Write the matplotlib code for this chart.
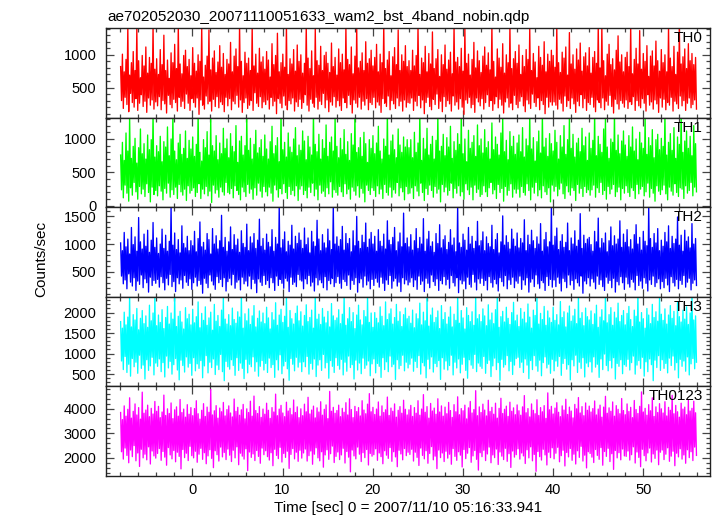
import numpy as np
import matplotlib
matplotlib.use("Agg")
import matplotlib.pyplot as plt
from matplotlib.ticker import MultipleLocator

plt.rcParams['font.family'] = ['Liberation Sans', 'DejaVu Sans']

title = "ae702052030_20071110051633_wam2_bst_4band_nobin.qdp"
xlabel = "Time [sec] 0 = 2007/11/10 05:16:33.941"
ylabel = "Counts/sec"
band_names = ["TH0", "TH1", "TH2", "TH3", "TH0123"]
band_colors = ["#ff0000", "#00ff00", "#0000ff", "#00ffff", "#ff00ff"]
t_start, t_stop = -7.95, 55.9
ylims = [(40, 1410), (-20, 1320), (45, 1667), (200, 2385), (1260, 4915)]
ymajor = [500, 500, 500, 500, 1000]
yminor = [100, 100, 100, 100, 200]

# local maxima / minima of each light curve (alternating)
th0_hi = [820, 1010, 740, 930, 1450, 690, 880, 1050, 760, 1420, 910, 650, 990, 830, 1120, 720, 960, 870, 1460, 780,
          940, 700, 1080, 850, 1300, 760, 920, 640, 1030, 880, 1160, 790, 1450, 860, 710, 990, 1070, 820, 930, 680,
          1110, 870, 750, 1000, 900, 1440, 660, 840, 980, 1380, 770, 950, 1060, 730, 890, 1140, 810, 1020, 700, 930,
          860, 1190, 740, 980, 1090, 820, 1460, 900, 680, 1040, 870, 950, 760, 1450, 830, 1010, 720, 1100, 890, 970,
          780, 1050, 920, 660, 1170, 850, 990, 1330, 740, 880, 1010, 810, 1470, 700, 940, 860, 1080, 750, 1150, 900,
          1000, 720, 870, 1450, 950, 790, 1060, 680, 1400, 910, 840, 1130, 760, 990, 1040, 870, 730, 1180, 820, 960,
          690, 1090, 880, 1010, 770, 1440, 930, 850, 1120, 710, 980, 1430, 800, 900, 1030, 760, 1200, 870, 940, 1070,
          830, 960, 1160, 740, 1010, 880, 1460, 790, 920, 1050, 680, 970, 1110, 850, 1380, 760, 1000, 900, 1140, 820,
          910, 760, 1070, 830, 990, 1450, 700, 950, 880, 1130, 740, 1020, 860, 1350, 790, 940, 1080, 670, 1000, 850,
          1150, 780, 920, 1040, 710, 1460, 890, 960, 820, 1100, 750, 1440, 870, 1010, 690, 930, 1190, 800, 1060, 910,
          730, 980, 1120, 840, 1030, 770, 1470, 900, 660, 1090, 950, 810, 1170, 720, 1000, 880, 1450, 790, 940, 1050,
          870, 1150, 700, 990, 820, 1080, 930, 1410, 760, 1020, 890, 650, 1130, 960, 840, 1200, 740, 1010, 900, 1070,
          990, 810, 1440, 880, 730, 1040, 950, 1120, 690, 1340, 860, 1000, 780, 1090, 920, 1180, 750, 970, 1030, 830,
          1110, 720, 960, 1050, 870, 1450, 800, 1450, 910, 680, 1010, 1160, 850, 940, 770, 1070, 1290, 890, 1000, 740,
          960, 1040, 820, 1460, 710, 930, 1100, 860, 1370, 780, 1020, 900, 1140, 670, 980, 1060, 830, 1210, 910, 750,
          1080, 880, 1000, 740, 1450, 950, 820, 1130, 700, 1040, 1420, 860, 970, 1090, 790, 1170, 910, 1020, 850, 960]
th0_lo = [300, 180, 350, 240, 130, 410, 270, 200, 330, 150, 260, 390, 210, 290, 120, 340, 230, 310, 170, 280,
          220, 360, 160, 300, 250, 110, 380, 240, 190, 320, 270, 140, 350, 210, 290, 180, 400, 260, 150, 330,
          270, 200, 340, 90, 310, 230, 170, 370, 250, 290, 140, 320, 210, 360, 190, 280, 240, 130, 350, 220,
          330, 160, 290, 250, 380, 200, 310, 120, 270, 340, 180, 230, 300, 150, 420, 260, 210, 360, 190, 280,
          240, 310, 170, 350, 220, 290, 100, 330, 260, 190, 370, 230, 160, 300, 250, 340, 140, 280, 210, 320,
          180, 270, 390, 230, 140, 320, 260, 200, 350, 170, 290, 240, 410, 190, 310, 130, 280, 230, 360, 200,
          300, 220, 150, 340, 270, 190, 380, 240, 110, 310, 260, 200, 350, 170, 290, 230, 330, 160, 270, 240,
          350, 190, 280, 230, 120, 330, 260, 210, 370, 160, 300, 250, 180, 340, 220, 290, 140, 310, 200, 270,
          260, 340, 150, 290, 220, 380, 190, 310, 100, 270, 350, 210, 160, 320, 240, 400, 180, 290, 130, 360,
          210, 300, 250, 140, 370, 230, 280, 170, 330, 200, 90, 310, 260, 350, 190, 240, 120, 340, 280, 220,
          330, 170, 270, 390, 210, 300, 150, 250, 360, 190, 320, 230, 110, 280, 340, 200, 260, 160, 380, 240,
          190, 290, 360, 220, 130, 310, 250, 180, 400, 270, 210, 340, 160, 300, 240, 100, 350, 200, 280, 230,
          280, 230, 170, 320, 260, 140, 370, 210, 300, 180, 340, 250, 120, 290, 220, 390, 190, 330, 150, 270,
          240, 350, 200, 130, 310, 270, 190, 340, 160, 290, 230, 380, 210, 110, 320, 250, 170, 300, 260, 200,
          310, 180, 280, 240, 360, 150, 300, 220, 190, 330, 260, 140, 390, 230, 280, 170, 310, 250, 120, 340,
          200, 320, 160, 270, 230, 350, 140, 290, 250, 180, 370, 220, 300, 150, 260, 340, 190, 240, 310, 170]

th1_hi = [760, 950, 680, 1090, 820, 1340, 710, 890, 1010, 640, 870, 1150, 780, 930, 700, 1060, 840, 990, 1400, 730,
          900, 810, 1040, 660, 960, 880, 1180, 750, 1000, 1380, 820, 690, 940, 1070, 770, 860, 1120, 710, 980, 850,
          1030, 740, 920, 1400, 800, 670, 990, 870, 1110, 760, 1320, 900, 820, 1050, 690, 940, 780, 1160, 860, 1000,
          720, 1080, 890, 810, 1200, 650, 970, 1040, 760, 900, 1350, 830, 1010, 700, 920, 1130, 790, 870, 990, 740,
          1060, 850, 700, 960, 1190, 780, 900, 1020, 660, 1400, 840, 950, 730, 1090, 880, 800, 1000, 1170, 750, 910,
          830, 1120, 970, 690, 1040, 880, 760, 1400, 920, 810, 1070, 700, 990, 860, 1210, 740, 950, 1030, 820, 1360,
          890, 720, 1010, 840, 1140, 770, 960, 680, 1080, 910, 1400, 800, 870, 1020, 740, 1100, 930, 650, 990, 860,
          1050, 780, 940, 1190, 820, 700, 1000, 890, 1400, 760, 970, 1060, 840, 720, 1150, 910, 800, 1030, 880, 990,
          870, 990, 720, 1100, 800, 940, 1400, 680, 1010, 850, 1160, 760, 920, 1040, 700, 980, 1370, 820, 890, 1070,
          750, 1020, 880, 1190, 710, 960, 830, 1080, 920, 1400, 780, 1000, 660, 1130, 860, 950, 1050, 740, 1210, 900,
          1000, 790, 1140, 870, 960, 700, 1240, 840, 1030, 920, 760, 1090, 1330, 810, 980, 690, 1110, 890, 1040, 770,
          940, 1060, 810, 1170, 730, 1000, 900, 1400, 850, 1020, 670, 960, 1120, 790, 1390, 880, 1010, 740, 1080, 930,
          820, 1130, 950, 700, 1050, 880, 1200, 770, 990, 1340, 860, 1070, 730, 940, 1010, 810, 1160, 900, 1030, 680,
          1090, 860, 980, 1400, 750, 1040, 920, 800, 1150, 1310, 880, 710, 1000, 950, 1400, 830, 1060, 780, 970, 1120,
          910, 740, 1050, 880, 1180, 820, 1000, 690, 1100, 940, 860, 1360, 770, 1020, 900, 1140, 720, 990, 1070, 840,
          1010, 890, 1400, 760, 950, 1080, 830, 1170, 710, 1030, 920, 1400, 800, 970, 1120, 860, 1040, 750, 1200, 930]
th1_lo = [240, 120, 310, 190, 70, 270, 160, 350, 210, 100, 290, 180, 250, 140, 330, 200, 60, 280, 170, 230,
          150, 300, 220, 90, 260, 190, 340, 130, 240, 170, 280, 110, 320, 210, 160, 250, 80, 300, 190, 230,
          270, 140, 200, 330, 110, 250, 180, 290, 150, 220, 50, 310, 190, 240, 130, 280, 210, 160, 350, 200,
          180, 260, 120, 300, 230, 170, 90, 280, 210, 140, 320, 190, 250, 100, 270, 160, 340, 220, 130, 290,
          210, 150, 280, 190, 70, 310, 240, 130, 260, 180, 330, 200, 110, 290, 170, 230, 150, 300, 80, 250,
          300, 170, 230, 120, 280, 200, 340, 150, 250, 90, 310, 190, 220, 140, 270, 180, 360, 130, 240, 200,
          160, 290, 210, 140, 330, 180, 250, 100, 280, 220, 160, 300, 130, 260, 190, 60, 310, 230, 170, 270,
          230, 140, 300, 180, 250, 110, 320, 200, 160, 280, 130, 240, 190, 350, 150, 270, 210, 90, 290, 180,
          190, 270, 110, 300, 220, 150, 340, 200, 80, 260, 170, 310, 230, 130, 290, 190, 250, 60, 320, 210,
          280, 160, 230, 340, 120, 260, 190, 300, 150, 210, 100, 330, 240, 170, 280, 90, 310, 200, 250, 140,
          170, 300, 210, 140, 270, 350, 180, 240, 110, 320, 200, 260, 70, 290, 160, 230, 330, 130, 250, 190,
          250, 130, 290, 200, 160, 330, 230, 90, 280, 190, 350, 150, 240, 120, 300, 210, 170, 270, 60, 310,
          220, 290, 150, 250, 340, 180, 110, 300, 210, 160, 270, 230, 80, 320, 190, 260, 140, 290, 200, 240,
          160, 240, 310, 130, 270, 200, 350, 170, 230, 100, 290, 180, 250, 320, 140, 210, 280, 90, 260, 190,
          300, 200, 140, 270, 230, 110, 320, 180, 250, 290, 150, 210, 340, 130, 260, 190, 70, 300, 220, 170,
          240, 310, 180, 90, 280, 220, 160, 330, 200, 140, 270, 250, 110, 300, 190, 230, 350, 150, 280, 210]

th2_hi = [1020, 880, 1210, 950, 1090, 820, 1300, 990, 1130, 870, 1480, 1040, 910, 1180, 960, 1250, 850, 1070, 1390, 940,
          1110, 830, 1000, 1270, 920, 1160, 870, 1050, 1700, 980, 1200, 900, 1080, 840, 1330, 1010, 930, 1140, 880, 1060,
          970, 1230, 860, 1100, 1400, 950, 1030, 890, 1190, 1080, 820, 1280, 1000, 1150, 910, 1060, 1520, 940, 1120, 870,
          1040, 1310, 900, 1170, 980, 1090, 850, 1240, 1010, 940, 1360, 880, 1130, 1020, 1190, 920, 1070, 1450, 960, 1100,
          890, 1180, 1030, 950, 1260, 870, 1120, 1000, 1700, 930, 1080, 1220, 860, 1050, 980, 1340, 910, 1140, 1010, 1200,
          1070, 920, 1290, 990, 1110, 840, 1230, 1040, 960, 1430, 1090, 880, 1170, 1020, 930, 1270, 1060, 900, 1700, 1000,
          1130, 960, 1080, 1320, 890, 1190, 1010, 1100, 860, 1240, 970, 1500, 1050, 920, 1160, 1030, 1380, 940, 1090, 1210,
          1000, 1140, 870, 1260, 1050, 960, 1180, 910, 1420, 1070, 990, 1120, 1300, 880, 1040, 1200, 950, 1560, 1010, 1110,
          950, 1170, 890, 1060, 1280, 920, 1120, 1000, 1460, 870, 1090, 1230, 960, 1040, 850, 1190, 1010, 1350, 930, 1080,
          1150, 900, 1030, 1260, 980, 1110, 860, 1700, 1020, 940, 1180, 1070, 890, 1300, 1000, 1140, 920, 1050, 1410, 970,
          1060, 1220, 880, 1130, 1010, 950, 1340, 900, 1080, 1190, 840, 1040, 1510, 980, 1150, 1030, 910, 1270, 1090, 960,
          1200, 930, 1100, 1020, 1440, 880, 1160, 990, 1250, 1060, 920, 1130, 1000, 1370, 870, 1080, 1210, 950, 1040, 1700,
          980, 1140, 1290, 900, 1050, 1170, 940, 1030, 1380, 880, 1110, 1000, 1240, 960, 1070, 1550, 920, 1160, 1010, 1090,
          1120, 990, 870, 1230, 1040, 1470, 930, 1100, 1020, 1200, 860, 1060, 1310, 970, 1150, 1000, 1090, 1420, 940, 1180,
          1030, 1260, 950, 1080, 910, 1170, 1350, 1000, 1120, 890, 1230, 1050, 970, 1700, 1100, 940, 1190, 1020, 1280, 880,
          1070, 960, 1210, 1040, 1330, 920, 1140, 1010, 1090, 1490, 980, 1160, 870, 1250, 1050, 1130, 930, 1370, 1000, 1100]
th2_lo = [420, 280, 350, 190, 460, 310, 240, 390, 160, 330, 270, 440, 210, 370, 300, 130, 400, 250, 340, 290,
          360, 220, 410, 300, 170, 380, 260, 450, 230, 320, 140, 390, 280, 350, 200, 430, 310, 250, 370, 180,
          300, 400, 240, 340, 270, 110, 380, 290, 210, 440, 330, 260, 180, 410, 300, 360, 230, 390, 150, 320,
          380, 260, 450, 200, 310, 350, 170, 400, 280, 330, 240, 420, 190, 360, 290, 120, 370, 310, 250, 430,
          270, 340, 210, 390, 300, 160, 420, 250, 360, 290, 200, 380, 330, 140, 400, 270, 310, 230, 450, 350,
          330, 190, 370, 280, 430, 240, 310, 150, 390, 260, 350, 300, 210, 410, 170, 340, 280, 380, 230, 300,
          410, 290, 200, 360, 320, 250, 440, 180, 340, 270, 390, 130, 300, 370, 220, 420, 260, 330, 190, 360,
          250, 380, 310, 220, 400, 290, 160, 350, 270, 430, 200, 330, 380, 240, 310, 140, 390, 280, 350, 260,
          310, 390, 230, 350, 180, 420, 270, 330, 140, 380, 290, 210, 440, 320, 250, 370, 160, 340, 280, 410,
          260, 360, 200, 430, 300, 240, 390, 120, 350, 280, 330, 190, 400, 270, 220, 450, 310, 170, 370, 290,
          380, 250, 340, 170, 410, 300, 220, 360, 280, 150, 390, 320, 240, 430, 190, 350, 270, 400, 210, 330,
          290, 420, 180, 350, 260, 390, 130, 310, 370, 230, 440, 280, 200, 340, 300, 160, 410, 250, 360, 220,
          350, 230, 400, 290, 150, 380, 320, 210, 440, 260, 340, 180, 370, 300, 240, 420, 110, 330, 280, 390,
          240, 370, 310, 190, 420, 270, 350, 230, 160, 400, 290, 340, 210, 380, 130, 320, 260, 410, 300, 180,
          400, 280, 220, 360, 310, 170, 430, 250, 330, 200, 390, 290, 150, 350, 270, 420, 230, 300, 370, 190,
          320, 210, 380, 260, 140, 410, 300, 240, 360, 190, 340, 270, 430, 220, 310, 380, 170, 290, 350, 250]

th3_hi = [1780, 1620, 2010, 1700, 1890, 2450, 1650, 1950, 1820, 2100, 1580, 1860, 2050, 1730, 1920, 1640, 2180, 1800, 1990, 2420,
          1680, 1940, 1760, 2070, 1610, 1880, 2150, 1720, 1990, 1840, 2450, 1660, 1910, 2030, 1770, 1600, 2120, 1850, 1960, 1700,
          2080, 1750, 1900, 2260, 1630, 1980, 1810, 2140, 1690, 1870, 2010, 1570, 2200, 1790, 1930, 1660, 2060, 2400, 1840, 1720,
          1950, 1680, 2110, 1830, 1740, 2020, 1890, 2450, 1620, 1970, 1800, 2090, 1710, 1920, 2170, 1650, 1860, 2040, 1770, 1990,
          1730, 2130, 1870, 1600, 2000, 1820, 2240, 1690, 1940, 2080, 1760, 1910, 2380, 1640, 2050, 1850, 1720, 1980, 2160, 1800,
          2020, 1670, 1930, 2190, 1780, 1880, 2060, 1620, 2440, 1840, 1960, 1710, 2100, 1890, 1750, 2030, 1650, 2220, 1920, 1810,
          1870, 2070, 1730, 1960, 2450, 1690, 1850, 2120, 1780, 2000, 1610, 1940, 2180, 1820, 1700, 2050, 1900, 2410, 1760, 1990,
          1640, 2000, 1860, 1750, 2140, 1910, 1680, 2260, 1830, 1970, 2090, 1720, 1880, 2200, 1790, 2020, 1660, 1950, 2110, 1850,
          1910, 1740, 2060, 1630, 1970, 1850, 2230, 1700, 2010, 1800, 2450, 1670, 1940, 2110, 1760, 1880, 2040, 1610, 2170, 1830,
          2000, 1720, 1890, 2140, 1650, 1960, 1810, 2440, 1740, 2050, 1870, 1600, 2120, 1930, 1780, 2020, 1690, 2400, 1850, 1950,
          1780, 2090, 1920, 1680, 2190, 1820, 1990, 1730, 2070, 2450, 1640, 1900, 2030, 1770, 2130, 1860, 1710, 2000, 2250, 1800,
          1940, 1660, 2100, 1840, 2010, 1750, 2210, 1890, 1620, 2060, 1930, 2390, 1720, 1980, 1830, 2150, 1690, 2040, 1870, 1760,
          2130, 1810, 1950, 1700, 2270, 1880, 2020, 1650, 1990, 2160, 1790, 1920, 2080, 1730, 2450, 1860, 2000, 1680, 2110, 1900,
          1820, 2040, 1710, 1970, 2180, 1640, 1890, 2070, 1800, 2430, 1750, 1950, 2120, 1690, 2010, 1870, 2230, 1780, 1930, 2050,
          1700, 1980, 2150, 1830, 1660, 2060, 1910, 2440, 1770, 2000, 1850, 1620, 2100, 1940, 1730, 2200, 1880, 2020, 1790, 2360,
          1960, 1810, 2090, 1720, 1940, 2170, 1860, 2030, 1680, 2250, 1900, 1770, 2060, 1840, 2140, 1710, 1990, 2450, 1820, 1920]
th3_lo = [820, 610, 930, 540, 740, 450, 880, 680, 790, 520, 960, 640, 720, 380, 850, 590, 700, 910, 480, 770,
          690, 870, 560, 780, 430, 940, 650, 810, 500, 730, 880, 600, 360, 840, 710, 550, 920, 670, 760, 470,
          900, 580, 750, 640, 830, 410, 700, 950, 530, 790, 660, 870, 490, 720, 610, 980, 560, 340, 810, 680,
          620, 850, 710, 470, 900, 590, 770, 640, 390, 860, 530, 740, 680, 920, 570, 800, 450, 690, 830, 600,
          760, 540, 890, 660, 730, 420, 850, 600, 970, 510, 700, 810, 630, 350, 880, 740, 580, 910, 670, 790,
          560, 800, 680, 930, 500, 760, 620, 870, 440, 720, 850, 590, 980, 650, 780, 400, 830, 690, 540, 900,
          710, 620, 860, 480, 790, 570, 940, 660, 730, 380, 840, 600, 770, 510, 890, 640, 720, 820, 460, 750,
          870, 530, 760, 690, 420, 900, 610, 800, 560, 940, 680, 740, 370, 850, 630, 710, 960, 580, 790, 650,
          740, 890, 570, 810, 660, 950, 500, 780, 700, 410, 860, 630, 920, 550, 760, 680, 830, 370, 900, 620,
          820, 600, 710, 960, 480, 790, 650, 870, 530, 740, 910, 590, 400, 850, 720, 640, 980, 560, 770, 690,
          640, 930, 520, 760, 840, 440, 700, 890, 610, 780, 350, 860, 670, 730, 950, 580, 810, 490, 720, 880,
          910, 660, 790, 540, 870, 720, 390, 830, 610, 950, 700, 570, 840, 460, 780, 920, 650, 740, 520, 860,
          580, 820, 690, 930, 470, 760, 880, 620, 730, 360, 850, 700, 960, 540, 790, 640, 900, 430, 770, 680,
          800, 550, 920, 670, 740, 420, 870, 610, 990, 710, 580, 830, 650, 900, 380, 760, 690, 850, 510, 730,
          690, 860, 600, 780, 940, 500, 720, 830, 640, 910, 450, 800, 560, 870, 730, 340, 840, 660, 950, 590,
          850, 640, 760, 530, 890, 710, 940, 600, 780, 410, 860, 690, 820, 570, 920, 480, 750, 880, 630, 790]

th0123_hi = [3850, 3560, 4120, 3700, 3980, 4450, 3620, 3900, 4200, 3750, 4050, 3580, 4680, 3820, 3950, 4150, 3680, 4020, 3790, 4300,
             3900, 4100, 3640, 3870, 4560, 3730, 4000, 3810, 4240, 3600, 3960, 4080, 3700, 4380, 3850, 3990, 3660, 4170, 3780, 4050,
             3720, 4010, 4330, 3800, 3580, 3940, 4210, 3690, 4070, 3860, 4790, 3750, 3920, 4130, 3620, 4030, 3880, 4260, 3710, 3970,
             4120, 3830, 3670, 4400, 3900, 4060, 3740, 3960, 4180, 3590, 4000, 3850, 4310, 3700, 4520, 3930, 3810, 4090, 3650, 3990,
             3780, 4230, 3940, 3610, 4050, 3870, 4600, 3720, 3990, 4140, 3830, 3680, 4270, 3910, 4020, 3760, 4360, 3850, 4080, 3640,
             4000, 3720, 4190, 3880, 4470, 3790, 3950, 4110, 3630, 4040, 3870, 4290, 3740, 3980, 4160, 3600, 4710, 3900, 4060, 3820,
             3930, 4150, 3680, 4020, 3860, 4250, 3750, 4410, 3970, 3640, 4100, 3890, 4050, 3710, 4330, 3950, 3800, 4190, 4620, 3880,
             4060, 3770, 3990, 4280, 3700, 4120, 3850, 3960, 4480, 3730, 4030, 3900, 4200, 3660, 3940, 4090, 3820, 4350, 3980, 3750,
             3960, 4140, 3690, 4050, 3820, 4330, 3740, 3990, 4580, 3860, 4090, 3620, 4220, 3910, 4030, 3780, 4410, 3870, 4120, 3700,
             4070, 3800, 4260, 3930, 3650, 4170, 3880, 4490, 3760, 4010, 3920, 4150, 3590, 4040, 4300, 3830, 3970, 4740, 3720, 4080,
             3850, 4190, 3950, 3710, 4350, 3890, 4060, 3780, 4230, 3620, 4020, 4430, 3810, 3980, 4110, 3690, 4270, 3900, 4040, 3760,
             4160, 3920, 3740, 4080, 4540, 3840, 4010, 3670, 4200, 3940, 3800, 4370, 3730, 4050, 3880, 4130, 3610, 4650, 3960, 4100,
             3790, 4030, 4250, 3860, 3680, 4120, 3950, 4390, 3770, 4070, 3910, 3630, 4180, 4000, 4460, 3830, 4090, 3720, 4240, 3940,
             4110, 3870, 4010, 4320, 3750, 3990, 4150, 3660, 4070, 4510, 3820, 4040, 3900, 4280, 3700, 4130, 3980, 3800, 4420, 3930,
             3760, 4200, 3890, 4060, 3640, 4340, 3970, 3810, 4100, 4690, 3870, 4020, 3740, 4170, 3920, 4450, 3690, 4080, 3850, 4210,
             4000, 3830, 4290, 3710, 4060, 3940, 4550, 3800, 4140, 3880, 3660, 4230, 3990, 4070, 3760, 4380, 3910, 4020, 4310, 3840]
th0123_lo = [2250, 1950, 2400, 2100, 1800, 2320, 2050, 2500, 1880, 2200, 1650, 2350, 2000, 2150, 1920, 2450, 1750, 2280, 2080, 1990,
             2180, 2380, 1900, 2260, 2030, 1700, 2420, 2120, 1960, 2300, 1840, 2230, 2060, 1550, 2340, 2010, 2190, 1890, 2470, 2090,
             2000, 2270, 1820, 2150, 2390, 1940, 2210, 1760, 2080, 2330, 1980, 1600, 2290, 2130, 1870, 2440, 2040, 2220, 1930, 2360,
             2110, 1850, 2310, 2000, 2450, 1720, 2190, 2070, 1950, 2370, 1480, 2240, 2020, 2160, 1890, 2300, 2060, 1780, 2400, 2130,
             2290, 2050, 1910, 2210, 1680, 2350, 2100, 1970, 2430, 1830, 2180, 2020, 2270, 1570, 2140, 2380, 1960, 2230, 1860, 2310,
             1990, 2200, 2360, 1870, 2090, 2280, 1740, 2150, 2410, 2000, 1880, 2250, 1620, 2120, 2330, 1940, 2170, 2480, 1810, 2060,
             2240, 1930, 2120, 2390, 1790, 2260, 2030, 1430, 2320, 2080, 1960, 2440, 2150, 1850, 2210, 2010, 2340, 1710, 2180, 2070,
             2130, 2370, 1900, 2200, 2050, 1760, 2290, 2110, 1980, 2420, 1860, 2250, 2040, 1640, 2310, 2160, 1920, 2380, 2090, 2230,
             2140, 2350, 1870, 2230, 2020, 1690, 2400, 2100, 1960, 2290, 1780, 2180, 2460, 1920, 2070, 1560, 2320, 2010, 2200, 1850,
             2270, 1990, 2150, 1740, 2380, 2060, 1900, 2250, 2110, 1630, 2340, 1970, 2190, 2420, 1820, 2080, 2300, 1940, 1500, 2210,
             2050, 2310, 1890, 2160, 2440, 1800, 2120, 2010, 2360, 1730, 2240, 2070, 1930, 2390, 1860, 2170, 1610, 2280, 2030, 2130,
             2370, 1950, 2200, 2080, 1770, 2330, 2000, 2450, 1880, 2140, 1450, 2260, 2050, 1910, 2350, 2120, 1710, 2230, 2010, 2410,
             1960, 2190, 2430, 1840, 2090, 2310, 1670, 2220, 2040, 2380, 1900, 2150, 1750, 2290, 2020, 2470, 1870, 2110, 1590, 2250,
             2180, 2030, 1810, 2340, 2100, 1940, 2420, 1700, 2260, 2060, 2390, 1850, 2170, 1530, 2300, 2000, 2210, 1920, 2360, 2080,
             2060, 2280, 1910, 2130, 2450, 1790, 2240, 2020, 1640, 2350, 2090, 1880, 2200, 2400, 1830, 2160, 1980, 2320, 1720, 2230,
             2320, 1930, 2150, 2410, 1860, 2070, 2270, 1680, 2190, 2040, 2370, 1950, 2120, 1780, 2330, 2010, 2250, 1890, 2440, 2100]

bands = [(th0_hi, th0_lo), (th1_hi, th1_lo), (th2_hi, th2_lo), (th3_hi, th3_lo), (th0123_hi, th0123_lo)]

W, H = 717, 516
fig = plt.figure(figsize=(W / 100, H / 100), dpi=100)
left_px, right_px, top_px, bottom_px = 106, 710, 28, 476
gs = fig.add_gridspec(5, 1, hspace=0,
                      left=left_px / W, right=right_px / W,
                      top=1 - top_px / H, bottom=1 - bottom_px / H)
axes = [fig.add_subplot(gs[i, 0]) for i in range(5)]

for i, ax in enumerate(axes):
    hi, lo = bands[i]
    y = np.column_stack([hi, lo]).ravel()
    t = np.linspace(t_start, t_stop, len(y))
    ax.plot(t, y, color=band_colors[i], lw=0.95)
    ax.set_xlim(-9.57, 57.4)
    ax.set_ylim(*ylims[i])
    ax.xaxis.set_major_locator(MultipleLocator(10))
    ax.xaxis.set_minor_locator(MultipleLocator(2))
    ax.yaxis.set_major_locator(MultipleLocator(ymajor[i]))
    ax.yaxis.set_minor_locator(MultipleLocator(yminor[i]))
    ax.tick_params(which='both', direction='in', top=True, right=True,
                   colors='#444444', labelcolor='black', labelsize=10.5, width=0.9)
    ax.tick_params(which='major', length=5.5, pad=7)
    ax.tick_params(which='minor', length=3)
    ax.tick_params(axis='x', pad=5)
    for sp in ax.spines.values():
        sp.set_color('#222222')
        sp.set_linewidth(1.0)
    if i < 4:
        ax.tick_params(axis='x', labelbottom=False)
    ax.text(1 - 7 / (right_px - left_px), 1 - 3 / 89.6, band_names[i],
            transform=ax.transAxes, ha='right', va='top', fontsize=11)

axes[0].set_title(title, loc='left', fontsize=11, pad=5, x=0.002)
axes[-1].set_xlabel(xlabel, fontsize=11, labelpad=3)
fig.text(41 / W, 1 - 259 / H, ylabel, rotation=90, ha='center', va='center', fontsize=11)

fig.savefig("out.png", dpi=100, facecolor='white')
